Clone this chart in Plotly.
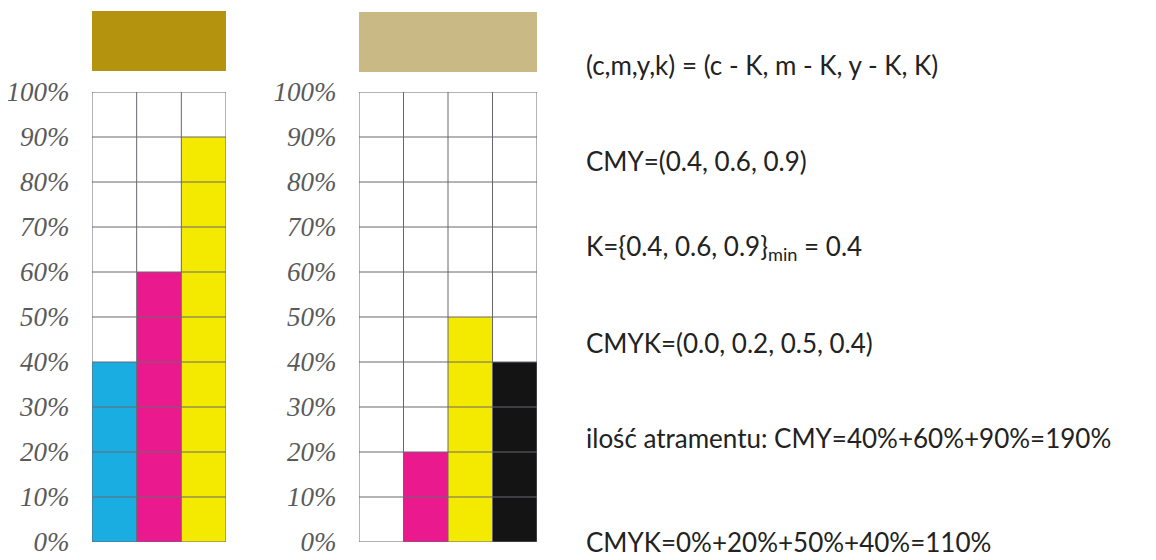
import plotly.graph_objects as go

# ---- data ----
left_channels = ["C", "M", "Y"]
left_values = [40, 60, 90]
left_colors = ["#19ade2", "#ea1a8e", "#f4ea00"]

right_channels = ["C", "M", "Y", "K"]
right_values = [0, 20, 50, 40]
right_colors = ["#19ade2", "#ea1a8e", "#f4ea00", "#141414"]

tick_values = [0, 10, 20, 30, 40, 50, 60, 70, 80, 90, 100]
tick_labels = ["0%", "10%", "20%", "30%", "40%", "50%", "60%", "70%", "80%", "90%", "100%"]

swatch_left = "#b4940f"
swatch_right = "#c8b985"

text_lines = [
    "(c,m,y,k) = (c - K, m - K, y - K, K)",
    "CMY=(0.4, 0.6, 0.9)",
    "K={0.4, 0.6, 0.9}<sub>min</sub> = 0.4",
    "CMYK=(0.0, 0.2, 0.5, 0.4)",
    "ilość atramentu: CMY=40%+60%+90%=190%",
    "CMYK=0%+20%+50%+40%=110%",
]

# page body has an 8px margin; size the figure to fit the window
PAD = 8
FW, FH = 1156 - PAD, 560 - PAD


def fx(px):
    return (px - PAD) / FW


def fy(py):
    return 1 - (py - PAD) / FH


GRID = "#6a6670"

fig = go.Figure()

fig.add_trace(go.Bar(x=list(range(len(left_channels))), y=left_values,
                     marker=dict(color=left_colors, line=dict(width=0)),
                     width=1, xaxis="x", yaxis="y", hoverinfo="skip",
                     showlegend=False))
fig.add_trace(go.Bar(x=list(range(len(right_channels))), y=right_values,
                     marker=dict(color=right_colors, line=dict(width=0)),
                     width=1, xaxis="x2", yaxis="y2", hoverinfo="skip",
                     showlegend=False))

y_dom = [fy(542), fy(92)]
tickfont = dict(family="Liberation Serif", size=27, color="#5a5a5a", style="italic")


def yax(anchor):
    return dict(domain=y_dom, range=[0, 100], tickvals=tick_values, ticktext=tick_labels,
                showgrid=False, zeroline=False, showline=False, ticks="outside",
                ticklen=16, tickcolor="rgba(0,0,0,0)", tickfont=tickfont,
                anchor=anchor, fixedrange=True, automargin=False)


def xax(domain, n, anchor):
    return dict(domain=domain, range=[-0.5, n - 0.5], showgrid=False, zeroline=False,
                showline=False, showticklabels=False, ticks="", anchor=anchor,
                fixedrange=True, automargin=False)


shapes = []
for xr, yr, n, sw, top, bot in [("x", "y", len(left_channels), swatch_left, 11, 71),
                                ("x2", "y2", len(right_channels), swatch_right, 12, 72)]:
    for v in tick_values:
        shapes.append(dict(type="line", xref=f"{xr} domain", yref=yr, x0=0, x1=1,
                           y0=v, y1=v, line=dict(color=GRID, width=1), layer="above"))
    for i in range(n + 1):
        shapes.append(dict(type="line", xref=xr, yref=f"{yr} domain", x0=i - 0.5, x1=i - 0.5,
                           y0=0, y1=1, line=dict(color=GRID, width=1), layer="above"))
    shapes.append(dict(type="rect", xref=f"{xr} domain", yref="paper", x0=0, x1=1,
                       y0=fy(bot), y1=fy(top), fillcolor=sw, line=dict(width=0)))

line_ys = [65, 161, 248, 343, 438, 542]
annotations = []
for t, yy in zip(text_lines, line_ys):
    annotations.append(dict(text=t, xref="paper", yref="paper", x=fx(584), y=fy(yy),
                            xanchor="left", yanchor="middle", showarrow=False,
                            font=dict(family="Lato", size=26, color="#222222")))

fig.update_layout(
    width=FW, height=FH, margin=dict(l=0, r=0, t=0, b=0, autoexpand=False),
    paper_bgcolor="white", plot_bgcolor="white",
    xaxis=xax([fx(92), fx(226)], len(left_channels), "y"),
    yaxis=yax("x"),
    xaxis2=xax([fx(359), fx(537)], len(right_channels), "y2"),
    yaxis2=yax("x2"),
    shapes=shapes, annotations=annotations, bargap=0,
)

fig.write_html("out.html", config={"displayModeBar": False})
